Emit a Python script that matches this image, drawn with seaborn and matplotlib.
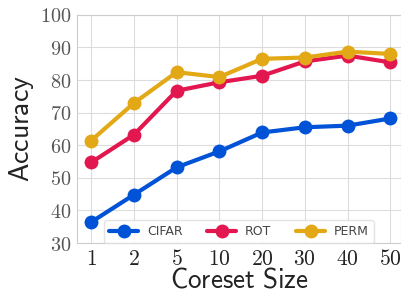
import pandas as pd
import numpy as np
import matplotlib
matplotlib.use("Agg")
import matplotlib.pyplot as plt
import seaborn as sns

sizes = ["1", "2", "5", "10", "20", "30", "40", "50"]
cifar = [36.4, 44.8, 53.2, 58.1, 63.9, 65.5, 66.0, 68.2]
rot = [54.7, 63.2, 76.7, 79.3, 81.3, 85.7, 87.5, 85.4]
perm = [61.4, 72.9, 82.4, 80.9, 86.5, 86.9, 88.7, 88.0]
names = ["CIFAR", "ROT", "PERM"]
colors = ["#0052d6", "#e3174f", "#e3a816"]
yticks = [30, 40, 50, 60, 70, 80, 90, 100]

sns.set_style("whitegrid", {"grid.color": "#dcdcdc", "axes.edgecolor": "#cccccc"})
plt.rcParams["mathtext.fontset"] = "cm"
plt.rcParams["font.family"] = ["DejaVu Sans"]

df = pd.DataFrame({
    "pos": list(range(len(sizes))) * 3,
    "acc": cifar + rot + perm,
    "data": [n for n in names for _ in sizes],
})

fig = plt.figure(figsize=(4.01, 2.96), dpi=100)
ax = fig.add_axes([0.192, 0.179, 0.808, 0.771])
sns.lineplot(data=df, x="pos", y="acc", hue="data", palette=colors,
             marker="o", markersize=10, markeredgewidth=0, linewidth=3,
             ax=ax)

ax.set_xlim(-0.33, 7.25)
ax.set_ylim(30, 100)
ax.set_xticks(range(len(sizes)))
ax.set_xticklabels(["$\\mathsf{%s}$" % s for s in sizes], fontsize=15.5, color="#222222")
ax.set_yticks(yticks)
ax.set_yticklabels(["$%d$" % v for v in yticks], fontsize=14.5, color="#555555")
ax.tick_params(length=0, pad=4)
ax.set_xlabel("$\\mathsf{Coreset\\ Size}$", fontsize=19.5, color="#222222", labelpad=-1)
ax.set_ylabel("$\\mathsf{Accuracy}$", fontsize=20, color="#222222", labelpad=3)

leg = ax.legend(loc="lower center", ncol=3, fontsize=9, borderaxespad=0,
                handlelength=2.3, handletextpad=0.7, columnspacing=2.0,
                frameon=True)
leg.get_frame().set_edgecolor("#dddddd")
for t in leg.get_texts():
    t.set_color("#444444")

fig.savefig("out.png", dpi=100)
